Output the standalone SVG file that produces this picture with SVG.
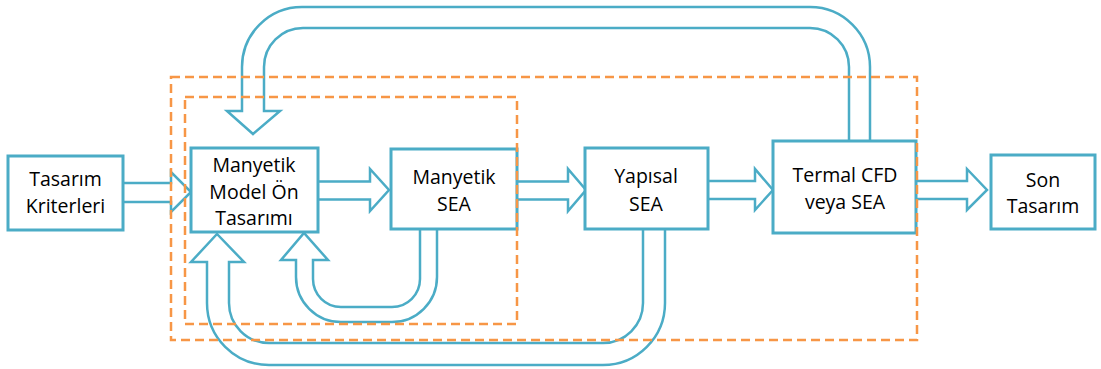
<svg xmlns="http://www.w3.org/2000/svg" width="1101" height="369" viewBox="0 0 1101 369">
<style>
.box{fill:#fff;stroke:#4bacc6;stroke-width:3}
.arr{fill:#fff;stroke:#4bacc6;stroke-width:2.5;stroke-linejoin:miter}
.grp{fill:none;stroke:#f79646;stroke-width:2.5;stroke-dasharray:9 5}
text{font-family:"Open Sans","Liberation Sans",sans-serif;font-size:19.5px;fill:#000;text-anchor:middle}
</style>
<rect width="1101" height="369" fill="#fff"/>
<g id="connectors">
<path class="arr" d="M870,141 V67 A60,60 0 0 0 810,7 H302 A60,60 0 0 0 242,67 V111 H227 L253,134 L280,111 H264 V67 A39,39 0 0 1 303,28 H810 A39,39 0 0 1 849,67 V141"/>
<path class="arr" d="M437,229 V277 A45,45 0 0 1 392,322 H341 A45,45 0 0 1 296,277 V260 H281 L304,233 L328,260 H313 V279 A28,28 0 0 0 341,307 H392 A28,28 0 0 0 420,279 V229"/>
<path class="arr" d="M665,229 V303 A62,62 0 0 1 603,365 H269 A62,62 0 0 1 207,303 V262 H191 L217,234 L244,262 H229 V303 A40,40 0 0 0 269,343 H603 A40,40 0 0 0 643,303 V229"/>
<path class="arr" d="M123,183 H171 V172 L191,192 L171,212 V202 H123"/>
<path class="arr" d="M318,181.5 H370 V169 L389,190 L370,211 V199.5 H318"/>
<path class="arr" d="M517,181.5 H568 V169 L586,190 L568,211 V199.5 H517"/>
<path class="arr" d="M708,181 H755 V169 L773,190 L755,210 V199 H708"/>
<path class="arr" d="M916,181 H967 V169 L987,190 L967,210 V199 H916"/>
</g>
<g id="n1"><rect class="box" x="8" y="156" width="115" height="74"/><text x="65.5" y="186">Tasarım</text><text x="65.5" y="213">Kriterleri</text></g>
<g id="n2"><rect class="box" x="191" y="148" width="127" height="84"/><text x="254" y="172">Manyetik</text><text x="254" y="199">Model Ön</text><text x="254" y="225">Tasarımı</text></g>
<g id="n3"><rect class="box" x="391" y="149" width="126" height="80"/><text x="454" y="184">Manyetik</text><text x="454" y="211">SEA</text></g>
<g id="n4"><rect class="box" x="585" y="148" width="123" height="81"/><text x="646" y="183">Yapısal</text><text x="646" y="210.5">SEA</text></g>
<g id="n5"><rect class="box" x="773" y="141" width="143" height="92"/><text x="845" y="182">Termal CFD</text><text x="845" y="209">veya SEA</text></g>
<g id="n6"><rect class="box" x="991" y="155" width="104" height="74"/><text x="1043" y="186.5">Son</text><text x="1043" y="213">Tasarım</text></g>
<g id="groups">
<rect class="grp" x="171" y="77" width="746" height="263"/>
<rect class="grp" x="185" y="97" width="332" height="227"/>
</g>
</svg>
